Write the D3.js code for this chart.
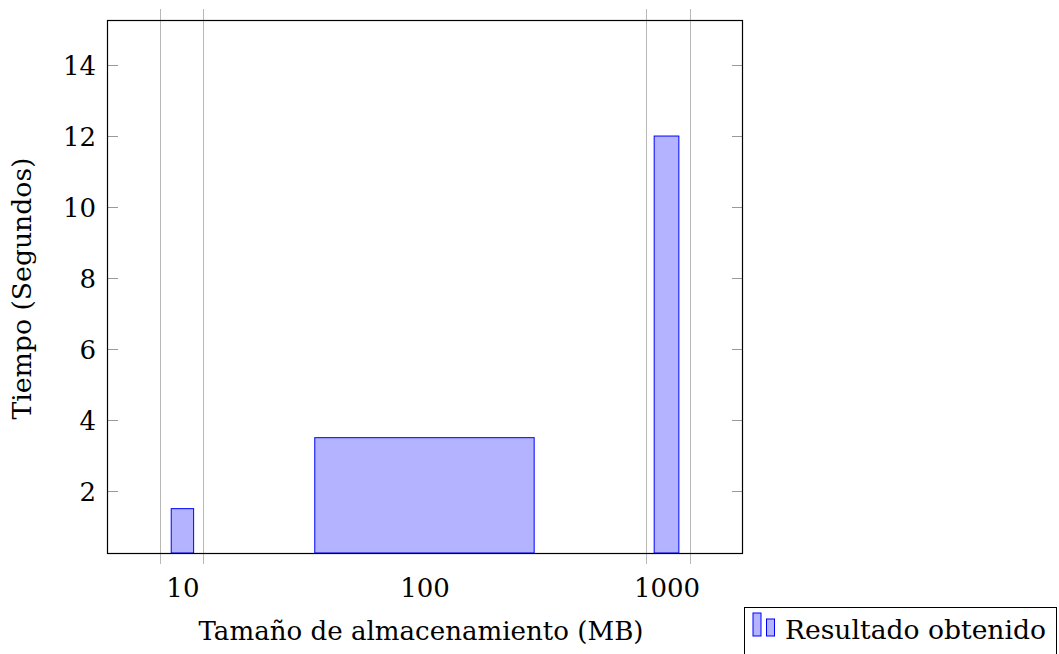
<!DOCTYPE html>
<html>
<head>
<meta charset="utf-8">
<script src="https://cdn.jsdelivr.net/npm/d3@7"></script>
<style>
  html, body { margin: 0; padding: 0; background: #fff; }
  svg { display: block; }
  text { font-family: "DejaVu Serif", serif; fill: #000; }
</style>
</head>
<body>
<svg id="chart" width="1059" height="654"></svg>
<script>
// Storage sizes (MB) and measured times (s)
const sizes = [10, 100, 1000];
const times = [1.5, 3.5, 12];
const xTickLabels = ["10", "100", "1000"];
const yTicks = [2, 4, 6, 8, 10, 12, 14];
const gridMarks = [8.1, 12.2, 825, 1250];
const seriesName = "Resultado obtenido";
const xTitle = "Tamaño de almacenamiento (MB)";
const yTitle = "Tiempo (Segundos)";

// Layout
const plot = { left: 107, right: 743, top: 20, bottom: 553 };
const barWidths = [22.4, 219.4, 24.7];
const fontSize = 26;
const fontFamily = "DejaVu Serif";
const barFill = "#b3b3ff";
const barStroke = "#0000ff";
const gridColor = "#b8b8b8";
const tickColor = "#9a9a9a";

const svg = d3.select("#chart");

const x = d3.scaleLog().domain([4.88, 2070]).range([plot.left, plot.right]);
const y = d3.scaleLinear().domain([0.25, 15.27]).range([plot.bottom, plot.top]);

// Vertical grid lines with outside tick extensions
svg.append("g").selectAll("line").data(gridMarks).join("line")
  .attr("x1", d => Math.round(x(d)) + 0.5)
  .attr("x2", d => Math.round(x(d)) + 0.5)
  .attr("y1", plot.top - 11)
  .attr("y2", plot.bottom + 11)
  .attr("stroke", gridColor)
  .attr("stroke-width", 1);

// Bars
svg.append("g").selectAll("rect").data(sizes).join("rect")
  .attr("x", (d, i) => x(d) - barWidths[i] / 2)
  .attr("width", (d, i) => barWidths[i])
  .attr("y", (d, i) => y(times[i]))
  .attr("height", (d, i) => y.range()[0] - y(times[i]))
  .attr("fill", barFill)
  .attr("stroke", barStroke)
  .attr("stroke-width", 1);

// Y ticks on both sides
const yt = svg.append("g");
yTicks.forEach(t => {
  const py = Math.round(y(t)) + 0.5;
  yt.append("line").attr("x1", plot.left).attr("x2", plot.left + 11)
    .attr("y1", py).attr("y2", py).attr("stroke", tickColor);
  yt.append("line").attr("x1", plot.right - 11).attr("x2", plot.right)
    .attr("y1", py).attr("y2", py).attr("stroke", tickColor);
});

// Y axis labels
const yAxis = d3.axisLeft(y).tickValues(yTicks).tickSize(0).tickPadding(11);
const gy = svg.append("g").attr("transform", `translate(${plot.left},0)`).call(yAxis);
gy.select(".domain").remove();
gy.selectAll("text").attr("font-size", fontSize).attr("font-family", fontFamily).attr("fill", "#000").attr("dy", "0.36em");

// X axis labels
const xAxis = d3.axisBottom(x).tickValues(sizes).tickFormat((d, i) => xTickLabels[i]).tickSize(0).tickPadding(0);
const gx = svg.append("g").attr("transform", `translate(0,${plot.bottom})`).call(xAxis);
gx.select(".domain").remove();
gx.selectAll("text").attr("font-size", fontSize).attr("font-family", fontFamily).attr("fill", "#000").attr("dy", null).attr("y", 44);

// Frame
svg.append("rect")
  .attr("x", plot.left + 0.5).attr("y", plot.top + 0.5)
  .attr("width", plot.right - plot.left - 1).attr("height", plot.bottom - plot.top)
  .attr("fill", "none").attr("stroke", "#000").attr("stroke-width", 1.2);

// Axis titles
svg.append("text")
  .attr("x", 421).attr("y", 640)
  .attr("text-anchor", "middle").attr("font-size", fontSize)
  .attr("textLength", 445).attr("lengthAdjust", "spacingAndGlyphs")
  .text(xTitle);

svg.append("text")
  .attr("transform", `translate(31,${(plot.top + plot.bottom) / 2 + 2}) rotate(-90)`)
  .attr("text-anchor", "middle").attr("font-size", fontSize)
  .attr("textLength", 262).attr("lengthAdjust", "spacingAndGlyphs")
  .text(yTitle);

// Legend
const lg = svg.append("g");
lg.append("rect").attr("x", 744.5).attr("y", 607.5).attr("width", 312).attr("height", 60)
  .attr("fill", "#fff").attr("stroke", "#000").attr("stroke-width", 1);
lg.append("rect").attr("x", 753).attr("y", 613).attr("width", 8).attr("height", 23)
  .attr("fill", barFill).attr("stroke", barStroke);
lg.append("rect").attr("x", 766.5).attr("y", 619).attr("width", 8).attr("height", 17)
  .attr("fill", barFill).attr("stroke", barStroke);
lg.append("text").attr("x", 785).attr("y", 639).attr("font-size", fontSize)
  .attr("textLength", 261).attr("lengthAdjust", "spacingAndGlyphs")
  .text(seriesName);
</script>
</body>
</html>
